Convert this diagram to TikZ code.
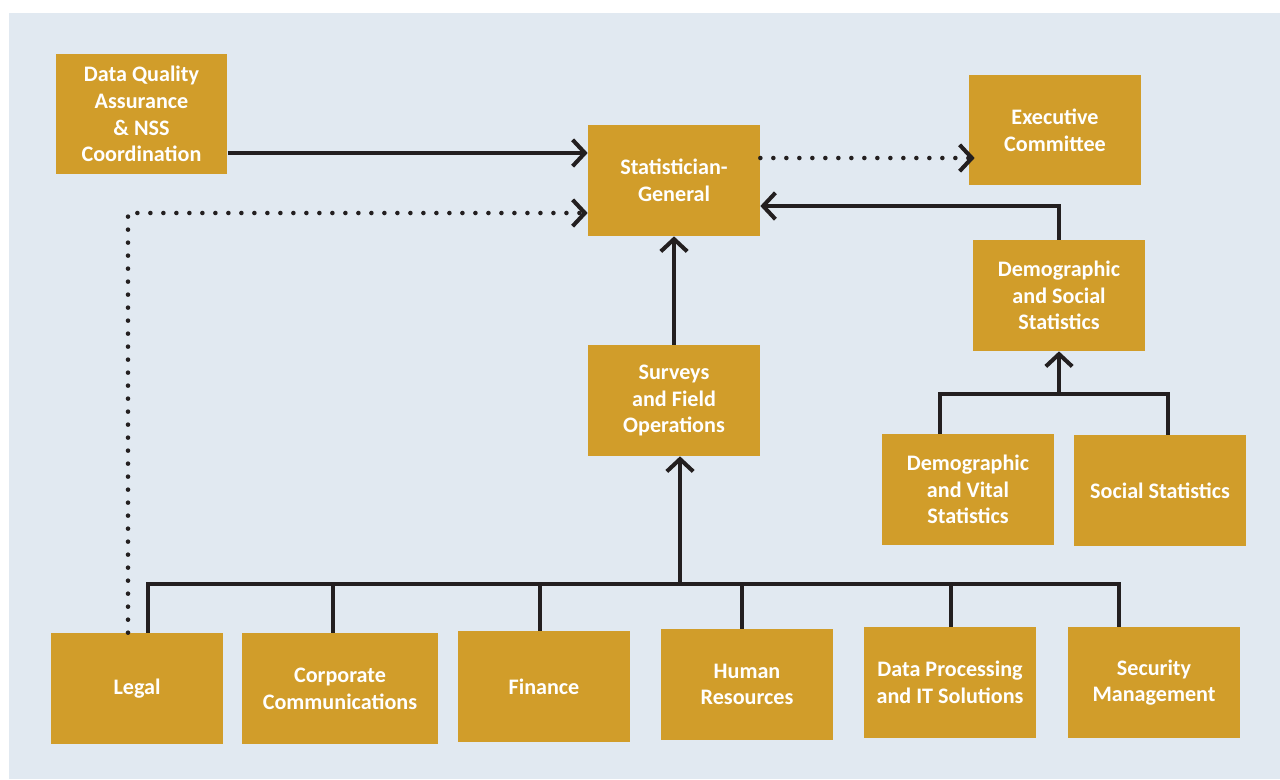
\documentclass[tikz,border=0pt]{standalone}
\usepackage{fontspec}
\setmainfont{Carlito}
\usepackage{xcolor}
\usetikzlibrary{arrows.meta,calc}
\definecolor{panel}{RGB}{225,233,241}
\definecolor{gold}{RGB}{209,157,42}
\definecolor{ink}{RGB}{35,31,32}

\begin{document}
\begin{tikzpicture}[x=0.02cm, y=-0.02cm,
  box/.style={fill=gold, text=white, font=\fontsize{12.6}{15.2}\selectfont\bfseries, align=center,
    minimum width=3.44cm, minimum height=2.22cm, inner sep=0pt},
  line/.style={ink, line width=2.3pt},
  arr/.style={line, -{Straight Barb[length=7pt, width=15pt, line width=2.3pt]}},
  dotarr/.style={ink, line width=2.6pt, line cap=round, dash pattern=on 0pt off 7.4pt,
    -{Straight Barb[length=7pt, width=15pt, line width=2.3pt, line cap=butt]}}]
  \useasboundingbox (0,0) rectangle (1280,779);
  \fill[panel] (9,13) rectangle (1280,779);

  % top row
  \node[box, minimum height=2.4cm] (dqa) at (141.5,114) {Data Quality\\Assurance\\\& NSS\\Coordination};
  \node[box] (sg) at (674,180.5) {Statistician-\\General};
  \node[box, minimum height=2.2cm] (exec) at (1055,130) {Executive\\Committee};
  \node[box] (dss) at (1059,295.5) {Demographic\\and Social\\Statistics};
  \node[box] (surveys) at (674,400.5) {Surveys\\and Field\\Operations};
  \node[box] (dvs) at (968,489.5) {Demographic\\and Vital\\Statistics};
  \node[box] (social) at (1160,490.5) {Social Statistics};

  % bottom row
  \node[box] (legal) at (137,688.5) {Legal};
  \node[box, minimum width=3.92cm] (corp) at (340,688.5) {Corporate\\Communications};
  \node[box] (finance) at (544,686.5) {Finance};
  \node[box] (hr) at (747,684.5) {Human\\Resources};
  \node[box] (dpit) at (950,682.5) {Data Processing\\and IT Solutions};
  \node[box] (security) at (1154,682.5) {Security\\Management};

  \coordinate (bus) at (680,584);
  \coordinate (dbus) at (1059,394);

  % reporting lines
  \draw[arr] ([yshift=-0.78cm]dqa.east) coordinate (q1) -- (q1 -| sg.west);
  \draw[dotarr] ([yshift=0.45cm]sg.east) coordinate (s1) -- ([xshift=0.12cm]s1 -| exec.west);
  \draw[dotarr] ([xshift=-0.18cm]legal.north) |- ([yshift=-0.65cm]sg.west);
  \draw[arr] (surveys.north) -- (sg.south);
  \draw[arr] (dss.north) |- ([yshift=-0.51cm]sg.east);

  % support units
  \draw[line] ([xshift=0.22cm]legal.north) |- (bus) -| ([xshift=-0.7cm]security.north);
  \foreach \b/\s in {corp/-0.14, finance/-0.08, hr/-0.1, dpit/0.02}
    \draw[line] ([xshift=\s cm]\b.north) -- ([xshift=\s cm]\b.north |- bus);
  \draw[arr] (bus) -- (bus |- surveys.south);

  % statistics units
  \draw[line] ([xshift=-0.56cm]dvs.north) |- (dbus) -| ([xshift=0.16cm]social.north);
  \draw[arr] (dbus) -- (dss.south);
\end{tikzpicture}
\end{document}
